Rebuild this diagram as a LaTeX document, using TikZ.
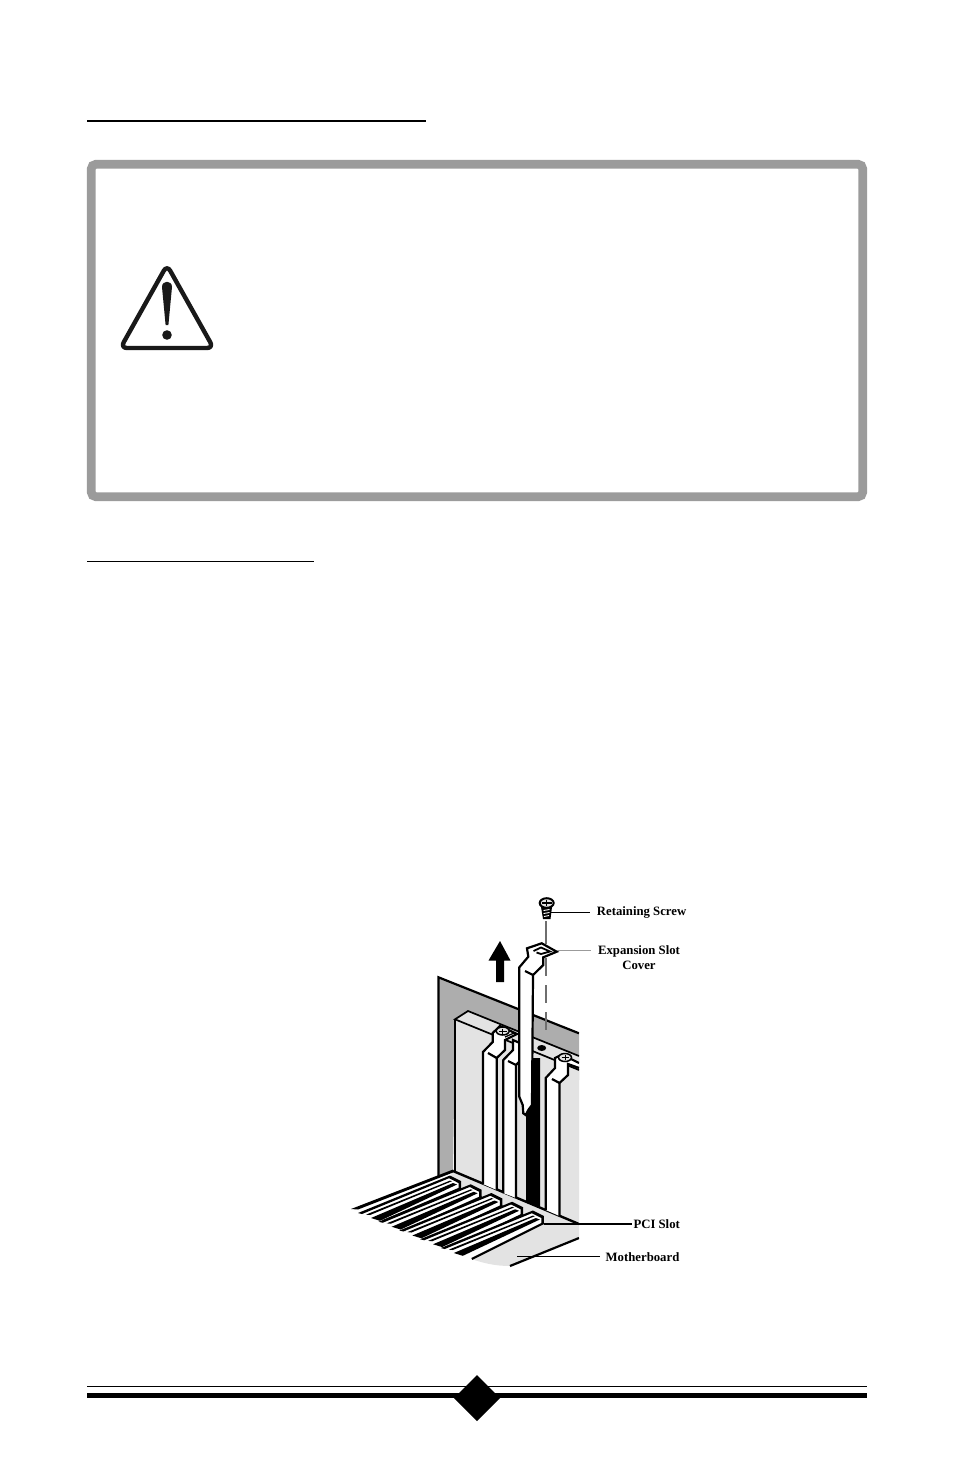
\documentclass[tikz,border=0pt]{standalone}
\usepackage{fontspec}
\setmainfont{Liberation Serif}
\definecolor{panelgray}{HTML}{9B9B9B}
\definecolor{wallgray}{HTML}{ADADAD}
\definecolor{lightgray}{HTML}{E3E3E3}
\definecolor{guidegray}{HTML}{6E6E6E}
\tikzset{
  calloutlabel/.style={font=\fontsize{12.75}{14.5}\selectfont\bfseries, inner sep=0pt, anchor=west},
  ruleline/.style={line width=#1, black},
  outline/.style={draw=black, line width=2.2pt, line join=miter},
  stripe/.style={draw=black, line width=2.1pt, line cap=butt},
  leader/.style={draw=black, line width=1.1pt},
  guide/.style={draw=guidegray, line width=1.1pt},
  screwhead/.style={fill=lightgray, draw=black, line width=1.5pt},
}
\begin{document}
\begin{tikzpicture}[x=1pt,y=-1pt]
\useasboundingbox (0,0) rectangle (954,1475);
% headings rules
\draw[ruleline=2pt] (87,120.5) -- (426,120.5);
\draw[ruleline=.9pt] (87,561) -- (314,561);
% warning panel
\draw[panelgray, line width=8.7pt, rounded corners=4.5pt] (91.3,164.3) rectangle (862.7,496.7);
% warning triangle
\draw[black!90, line width=4.4pt, line join=round, rounded corners=6.5pt]
  (167,265) -- (120.5,348) -- (213.5,348) -- cycle;
\fill[black!90] (162,287) .. controls (162,280) and (172,280) .. (172,287)
  -- (168.4,325) -- (165.6,325) -- cycle;
\fill[black!90] (167,335) circle (4.8);
% illustration (cut off on the right at x=579)
\begin{scope}
\clip (340,890) rectangle (579,1275);
% wall
\fill[wallgray] (438.5,977.5) -- (579,1033.5) -- (579,1080) -- (455,1030) -- (453,1171.5) -- (438.5,1176) -- cycle;
\draw[black, line width=2.2pt] (579,1033.3) -- (438.5,977.3) -- (438.5,1177);
% light backplate
\fill[lightgray] (455,1019.3) -- (468,1011) -- (579,1056) -- (579,1226) -- (455,1173) -- cycle;
\draw[black, line width=1.7pt] (579,1056) -- (468,1011) -- (455,1019.3) -- (579,1070);
\draw[black, line width=2pt] (455,1019.3) -- (455,1172);
% open slot
\fill[black] (526,1058) -- (540,1058) -- (540,1209) -- (526,1203) -- cycle;
\fill[black] (541.7,1048) ellipse (4.5 and 3);
% floor
\fill[lightgray] (453,1171) -- (579,1224) -- (579,1238) -- (510,1266)
  .. controls (495,1266) and (483,1263) .. (471.5,1259)
  -- (544,1223) -- (533,1212) -- (523,1214.5) -- (512,1203.5) -- (502.5,1206) -- (491.5,1194.5)
  -- (482,1197.5) -- (471,1185.5) -- (461,1188.5) -- (450,1177) -- cycle;
\draw[black, line width=2.2pt] (579,1238) -- (510,1266);
% slots
\foreach \k/\ex/\ey in {0/-67/44, 1/-65.5/45, 2/-64/45.5, 3/-62.5/46, 4/-61/47}{
  \begin{scope}[shift={(450+20.7*\k,1177+8.75*\k)}]
    \fill[white] (0,0) -- (11,5) -- (11,11) -- (\ex,\ey) -- (-89,36) -- cycle;
    \fill[black] (0,-1.5) -- (11,4) -- (11,12) -- (8.5,12) -- (8.5,6) -- (-1,1.2) -- (-88,37) -- (-92,36) -- cycle;
    \fill[black] (0,3.6) -- (2,4.2) -- (-80,38) -- (-84,37.6) -- cycle;
    \fill[black] (3,6) -- (7,7.5) -- (-70,43.8) -- (-79,41) -- cycle;
    \draw[stripe] (11,11) -- (\ex,\ey);
  \end{scope}
}
\fill[black] (453,1169.5) -- (453,1172.5) -- (358,1209.5) -- (351,1209) -- cycle;
\draw[black, line width=2.4pt] (453,1171) -- (579,1224);
% card A
\fill[white] (483,1184) -- (483,1052) -- (492.7,1042) -- (492.7,1033) -- (500,1026) -- (517,1034) -- (505,1040) -- (505,1050) -- (496.7,1058) -- (496.7,1190) -- cycle;
\draw[outline] (483,1184) -- (483,1052) -- (492.7,1042) -- (492.7,1033) -- (500,1026) -- (517,1034) -- (505,1040) -- (505,1050) -- (496.7,1058) -- (496.7,1190);
\draw[outline] (488,1053) -- (496.7,1058);
\draw[black, line width=1.3pt] (505,1037) -- (514,1033);
\draw[screwhead] (502.7,1031) ellipse (6.5 and 4);
\draw[black, line width=1pt] (499,1031) -- (506.5,1031) (502.7,1028.5) -- (502.7,1033.5);
% card B
\fill[white] (503.3,1193) -- (503.3,1060) -- (513,1050) -- (513,1040) -- (525,1044) -- (525,1058) -- (516,1065) -- (516,1198) -- cycle;
\draw[outline] (503.3,1193) -- (503.3,1060) -- (513,1050) -- (513,1040) -- (522,1044);
\draw[outline] (516,1198) -- (516,1065) -- (522,1059);
\draw[outline] (508,1061) -- (516,1065);
% card C
\fill[white] (545.7,1210) -- (545.7,1078) -- (555,1068) -- (555,1058) -- (562,1054.5) -- (579,1063) -- (579,1066) -- (568,1065) -- (568,1075) -- (559.5,1083) -- (559.5,1216) -- cycle;
\draw[outline] (545.7,1210) -- (545.7,1078) -- (555,1068) -- (555,1058) -- (562,1054.5) -- (579,1063);
\draw[outline] (559.5,1216) -- (559.5,1083) -- (568,1075) -- (568,1064) -- (579,1068);
\draw[outline] (552,1079) -- (559.5,1083);
\draw[screwhead] (565,1057.5) ellipse (6.5 and 4);
\draw[black, line width=1pt] (561.5,1057.5) -- (568.5,1057.5) (565,1055) -- (565,1060);
% guide of the screw
\draw[guide, dash pattern=on 18pt off 9pt] (546,958) -- (546,1033);
\draw[guide] (546,921) -- (546,944);
% raised slot cover
\fill[white] (519.3,1096.7) -- (519.3,967.3) -- (528.3,956.7) -- (527,948.3) -- (541.7,943.3) -- (556.7,951.7) -- (543.3,957.3) -- (543.3,965) -- (533,975) -- (532,1105) -- (528.3,1110) -- (525.7,1115) -- (523.3,1113.3) -- (522.7,1105) -- cycle;
\draw[outline] (519.3,1096.7) -- (519.3,967.3) -- (528.3,956.7) -- (527,948.3) -- (541.7,943.3) -- (556.7,951.7) -- (543.3,957.3) -- (543.3,965) -- (533,975) -- (532,1105) -- (528.3,1110) -- (525.7,1115) -- (523.3,1113.3) -- (522.7,1105) -- cycle;
\draw[outline] (525,971) -- (533,975);
\draw[black, line width=1.8pt] (533.5,951) -- (541,947.5) -- (550,951.5) -- (541,954) -- (536.5,952.5);
% retaining screw
\fill[black] (541,907) -- (552,907) -- (550.5,919) -- (543,919) -- cycle;
\draw[white, line width=.9pt] (543.5,910.5) -- (549.5,909.5) (543.5,913.5) -- (549.5,912.5) (544,916.5) -- (549,915.5);
\draw[black, fill=lightgray, line width=2pt] (546.7,903) ellipse (7 and 4.8);
\draw[black, line width=1.2pt] (541.5,903) -- (552,903) (546.7,900) -- (546.7,906);
% upward arrow
\fill[black] (500,941) -- (510.5,960.5) -- (504,960.5) -- (504,982) -- (496,982) -- (496,960.5) -- (488.5,960.5) -- cycle;
\end{scope}
% labels and leaders
\coordinate (screwpt) at (551,912.5);
\coordinate (coverpt) at (556.7,950.5);
\coordinate (slotpt) at (544,1224);
\coordinate (boardpt) at (517,1256.5);
\node[calloutlabel] (lblscrew) at (596.7,912.5) {Retaining Screw};
\node[calloutlabel, anchor=north, align=center] (lblcover) at (639,945.5) {Expansion Slot\\Cover};
\node[calloutlabel] (lblslot) at (633.3,1224.5) {PCI Slot};
\node[calloutlabel] (lblboard) at (605.5,1257) {Motherboard};
\draw[leader] (screwpt) -- ([xshift=-6.5pt]lblscrew.west |- screwpt);
\draw[draw=panelgray, line width=1.1pt] (coverpt) -- (590.7,950.5);
\draw[black, line width=1.9pt] (slotpt) -- ([xshift=-1.5pt]lblslot.west |- slotpt);
\draw[leader] (boardpt) -- ([xshift=-5.5pt]lblboard.west |- boardpt);
% footer
\draw[ruleline=1pt] (87,1386.5) -- (867,1386.5);
\draw[ruleline=5pt] (87,1395.5) -- (867,1395.5);
\fill[black] (477,1375) -- (500,1398) -- (477,1421) -- (454,1398) -- cycle;
\end{tikzpicture}
\end{document}
